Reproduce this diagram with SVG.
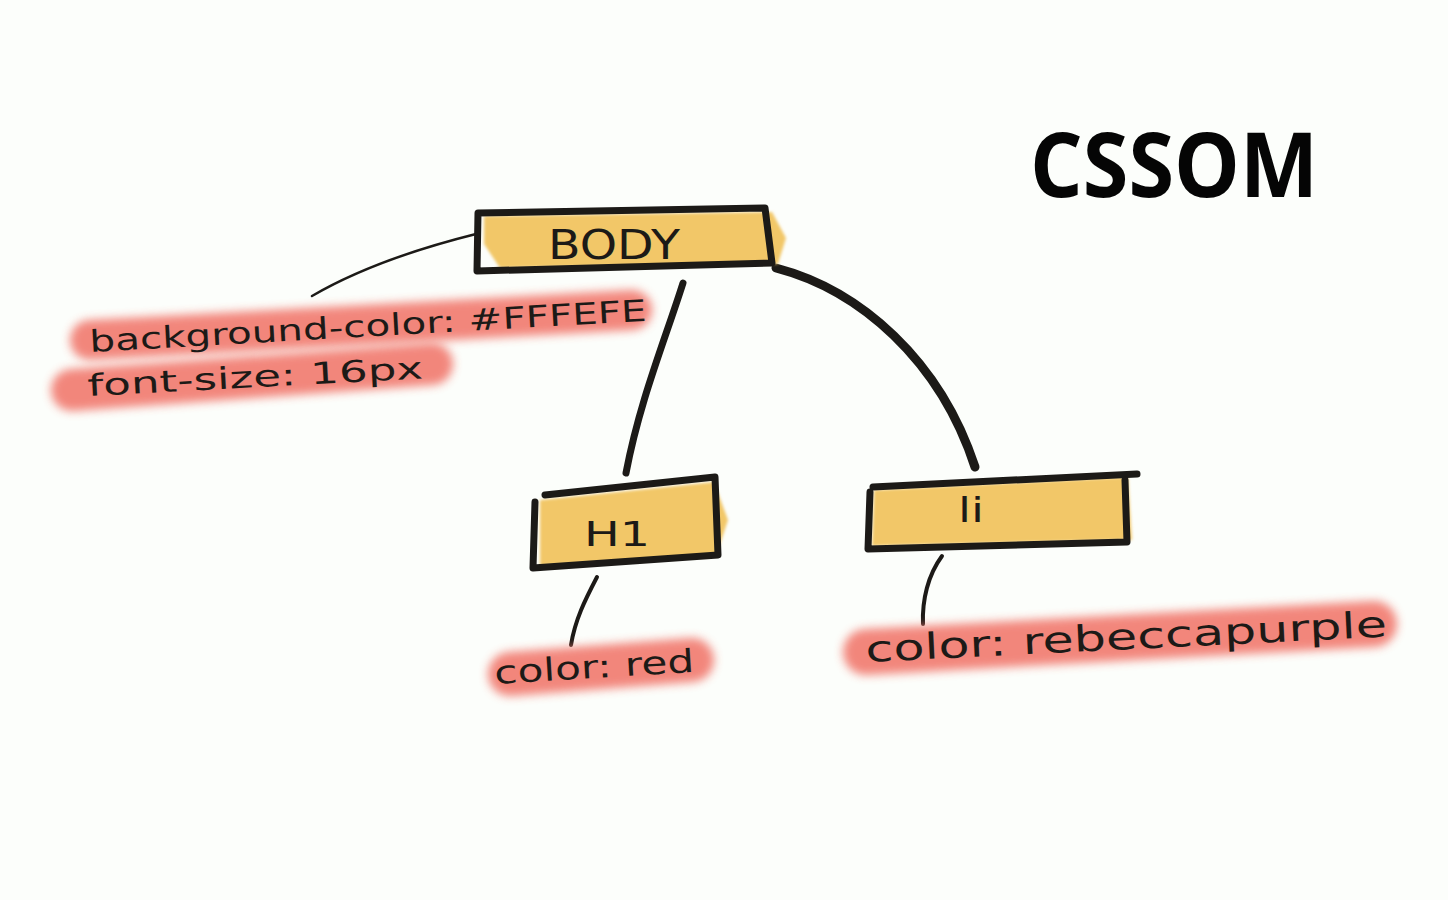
<svg xmlns="http://www.w3.org/2000/svg" width="1448" height="900" viewBox="0 0 1448 900">
<defs>
<filter id="soft" filterUnits="userSpaceOnUse" x="0" y="0" width="1448" height="900"><feGaussianBlur stdDeviation="5"/></filter>
<filter id="soft2" filterUnits="userSpaceOnUse" x="0" y="0" width="1448" height="900"><feGaussianBlur stdDeviation="1.5"/></filter>
<style>
.band{stroke:#F1766A;stroke-linecap:round;fill:none;opacity:0.88;filter:url(#soft)}
.fill{fill:#F2C767;filter:url(#soft2)}
.edge{fill:none;stroke:#1C1A17;stroke-width:7;stroke-linejoin:round;stroke-linecap:round}
.conn{fill:none;stroke:#1C1A17;stroke-linecap:round}
.hand{font-family:"DejaVu Sans",sans-serif;fill:#1C1A17}
.title{font-family:"Open Sans","Noto Sans",sans-serif;font-weight:bold;fill:#050505}
</style>
</defs>
<rect width="1448" height="900" fill="#FCFEFB"/>
<text class="title" x="1030" y="197" font-size="90" textLength="288" lengthAdjust="spacingAndGlyphs">CSSOM</text>
<g id="connectors">
<path class="conn" d="M476,234 C420,248 360,268 312,296" stroke-width="2.5"/>
<path class="conn" d="M683,283 C665,340 640,400 626,473" stroke-width="7"/>
<path class="conn" d="M776,268 C860,290 940,360 975,467" stroke-width="9"/>
<path class="conn" d="M597,577 C585,600 575,620 571,645" stroke-width="4"/>
<path class="conn" d="M942,556 C928,575 922,600 923,624" stroke-width="4"/>
</g>
<g id="style-body">
<path class="band" d="M90,340 L632,310" stroke-width="40"/>
<path class="band" d="M72,390 L432,364" stroke-width="42"/>
<text class="hand" font-size="30" transform="translate(90,352) rotate(-3.2)" textLength="558" lengthAdjust="spacingAndGlyphs">background-color: #FFFEFE</text>
<text class="hand" font-size="30" transform="translate(88,396) rotate(-3)" textLength="336" lengthAdjust="spacingAndGlyphs">font-size: 16px</text>
</g>
<g id="node-body">
<path class="fill" d="M484,216 L772,212 L786,238 L778,264 L500,268 L484,244 Z"/>
<path class="edge" d="M478,213 L765,208 L772,263 L477,271 Z"/>
<text class="hand" x="548" y="259" font-size="40" textLength="132" lengthAdjust="spacingAndGlyphs">BODY</text>
</g>
<g id="node-h1">
<path class="fill" d="M540,500 L714,482 L728,520 L716,556 L540,566 Z"/>
<path class="edge" d="M545,495 L715,477 L718,555 L533,568 L535,502"/>
<text class="hand" x="584" y="546" font-size="34" textLength="66" lengthAdjust="spacingAndGlyphs">H1</text>
</g>
<g id="node-li">
<path class="fill" d="M874,490 L1128,477 L1132,540 L872,546 Z"/>
<path class="edge" d="M873,487 L1137,474"/>
<path class="edge" d="M1125,480 L1127,542 L868,549 L870,492"/>
<text class="hand" x="958" y="522" font-size="34" textLength="26" lengthAdjust="spacingAndGlyphs">li</text>
</g>
<g id="style-h1">
<path class="band" d="M510,674 L692,660" stroke-width="44"/>
<text class="hand" font-size="32" transform="translate(495,684) rotate(-3.5)" textLength="200" lengthAdjust="spacingAndGlyphs">color: red</text>
</g>
<g id="style-li">
<path class="band" d="M866,652 L1374,624" stroke-width="46"/>
<text class="hand" font-size="36" transform="translate(866,662) rotate(-2.8)" textLength="522" lengthAdjust="spacingAndGlyphs">color: rebeccapurple</text>
</g>
</svg>
